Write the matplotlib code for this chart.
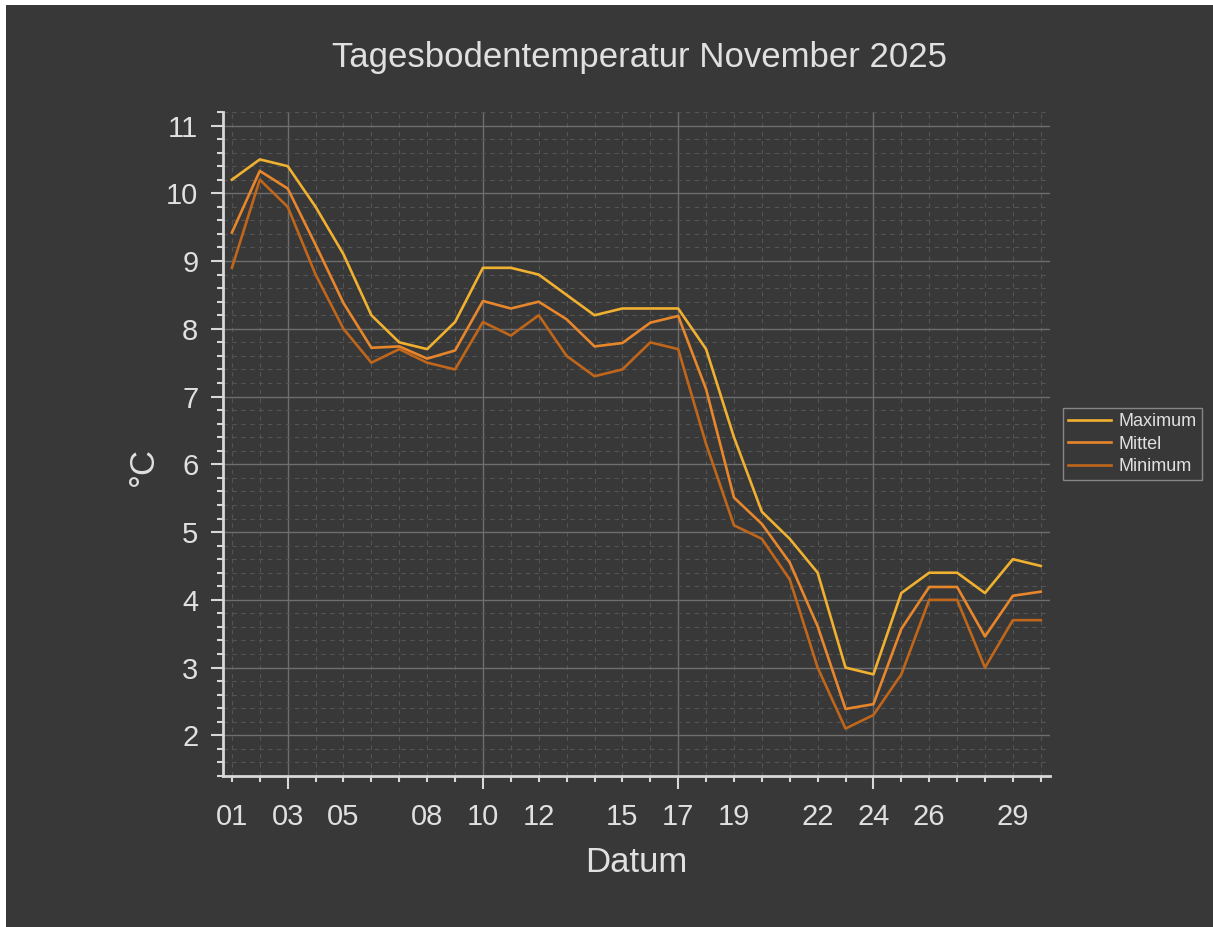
import matplotlib
matplotlib.use("Agg")
import matplotlib.pyplot as plt
from matplotlib.patches import Rectangle
from matplotlib.ticker import FixedLocator, MultipleLocator, FuncFormatter

plt.rcParams['font.family'] = ['Liberation Sans', 'DejaVu Sans']

# daily soil temperatures, November 2025
days = list(range(1, 31))
t_max = [10.2, 10.5, 10.4, 9.8, 9.1, 8.2, 7.8, 7.7, 8.1, 8.9, 8.9, 8.8, 8.5, 8.2, 8.3,
         8.3, 8.3, 7.7, 6.4, 5.3, 4.9, 4.4, 3.0, 2.9, 4.1, 4.4, 4.4, 4.1, 4.6, 4.5]
t_mean = [9.42, 10.33, 10.07, 9.24, 8.38, 7.72, 7.74, 7.56, 7.68, 8.41, 8.30, 8.40, 8.14, 7.74, 7.79,
          8.09, 8.19, 7.11, 5.51, 5.12, 4.55, 3.61, 2.39, 2.46, 3.57, 4.19, 4.19, 3.46, 4.06, 4.12]
t_min = [8.9, 10.2, 9.8, 8.8, 8.0, 7.5, 7.7, 7.5, 7.4, 8.1, 7.9, 8.2, 7.6, 7.3, 7.4,
         7.8, 7.7, 6.3, 5.1, 4.9, 4.3, 3.0, 2.1, 2.3, 2.9, 4.0, 4.0, 3.0, 3.7, 3.7]
mondays = [3, 10, 17, 24]
label_days = [1, 3, 5, 8, 10, 12, 15, 17, 19, 22, 24, 26, 29]

bg = '#383838'
fg = '#e0e0e0'
tick_col = '#d8d8d8'

fig = plt.figure(figsize=(12.13, 9.27), dpi=100, facecolor='white')
fig.patches.append(Rectangle((6 / 1213, 0), 1, 1 - 5 / 927, transform=fig.transFigure,
                             facecolor=bg, edgecolor='none', zorder=-10))
ax = fig.add_axes([0.1836, 0.1629, 0.6820, 0.7163])
ax.set_facecolor(bg)

ax.plot(days, t_max, color='#f0b030', lw=1.9, label='Maximum')
ax.plot(days, t_mean, color='#e8862c', lw=1.9, label='Mittel')
ax.plot(days, t_min, color='#c0661a', lw=1.9, label='Minimum')

ax.set_xlim(0.67, 30.33)
ax.set_ylim(1.4, 11.2)

ax.xaxis.set_major_locator(FixedLocator(mondays))
ax.xaxis.set_minor_locator(FixedLocator(days))
ax.xaxis.set_major_formatter(FuncFormatter(lambda x, p: f"{int(round(x)):02d}"))
ax.xaxis.set_minor_formatter(FuncFormatter(
    lambda x, p: f"{int(round(x)):02d}" if int(round(x)) in label_days else ""))
ax.yaxis.set_major_locator(MultipleLocator(1))
ax.yaxis.set_minor_locator(MultipleLocator(0.2))

ax.tick_params(axis='x', which='major', length=9.4, width=1.5, pad=10.0,
               color=tick_col, labelcolor=fg, labelsize=21)
ax.tick_params(axis='x', which='minor', length=4.3, width=1.5, pad=15.0,
               color=tick_col, labelcolor=fg, labelsize=21)
ax.tick_params(axis='y', which='major', length=8.6, width=1.5, pad=9.0,
               color=tick_col, labelcolor=fg, labelsize=21)
ax.tick_params(axis='y', which='minor', length=4.3, width=1.5, color=tick_col)

for s in ['top', 'right']:
    ax.spines[s].set_visible(False)
for s in ['left', 'bottom']:
    ax.spines[s].set_color(tick_col)
    ax.spines[s].set_linewidth(2.0)

ax.set_axisbelow(True)
ax.grid(which='major', color='#6e6e6e', lw=1.0, ls='-')
ax.grid(which='minor', color='#545454', lw=0.8, ls=(0, (4, 4)))

fig.text(0.527, 0.938, 'Tagesbodentemperatur November 2025', color=fg, fontsize=25,
         ha='center', va='center')
fig.text(143 / 1213, 1 - 467 / 927, '°C', color=fg, fontsize=25, rotation=90,
         ha='center', va='center')
fig.text(636 / 1213, 1 - 862 / 927, 'Datum', color=fg, fontsize=25,
         ha='center', va='center')

leg = fig.legend(loc='center left', bbox_to_anchor=(0.876, 0.521), fontsize=13,
                 frameon=True, fancybox=False, handlelength=2.4, labelspacing=0.3,
                 borderpad=0.3, handletextpad=0.4, borderaxespad=0)
leg.get_frame().set_facecolor(bg)
leg.get_frame().set_edgecolor('#9a9a9a')
leg.get_frame().set_linewidth(1.0)
for t in leg.get_texts():
    t.set_color(fg)

fig.savefig('out.png', dpi=100, facecolor=fig.get_facecolor())
